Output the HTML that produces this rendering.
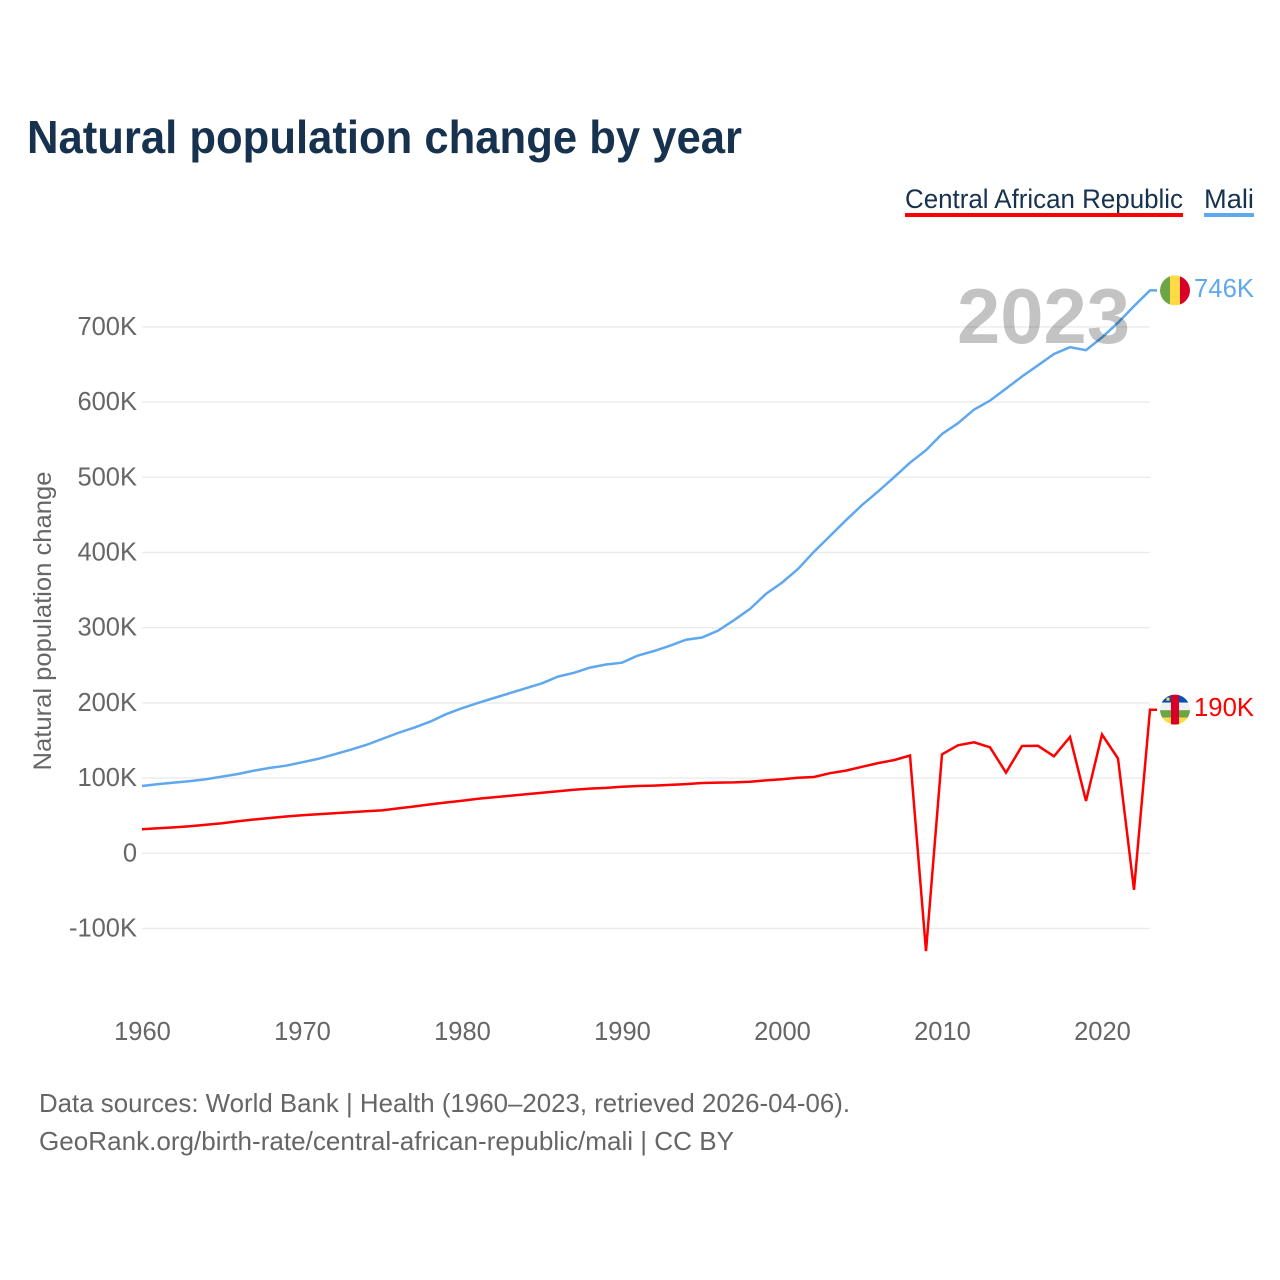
<!DOCTYPE html>
<html lang="en">
<head>
<meta charset="utf-8">
<title>Natural population change by year</title>
<style>
  html, body { margin: 0; padding: 0; background: #fff; }
  #chart { display: block; width: 1280px; height: 1280px; font-family: "Liberation Sans", sans-serif; }
  .tick { font-size: 25.5px; fill: #666; }
</style>
</head>
<body>
<svg id="chart" xmlns="http://www.w3.org/2000/svg" width="1280" height="1280" viewBox="0 0 1280 1280">
  <defs>
    <clipPath id="flag-clip"><circle cx="0" cy="0" r="15"></circle></clipPath>
  </defs>
  <rect x="0" y="0" width="1280" height="1280" fill="#fff"></rect>

  <text x="27" y="153" font-size="46" font-weight="700" fill="#17324f" textLength="715" lengthAdjust="spacingAndGlyphs">Natural population change by year</text>

  <g>
    <g>
      <text x="905" y="208" font-size="27" fill="#17324f" textLength="278" lengthAdjust="spacingAndGlyphs">Central African Republic</text>
      <rect x="905" y="213" width="278" height="4" fill="#ff0000"></rect>
    </g>
    <g>
      <text x="1204" y="208" font-size="27" fill="#17324f" textLength="50" lengthAdjust="spacingAndGlyphs">Mali</text>
      <rect x="1204" y="213" width="50" height="4" fill="#5fa8ee"></rect>
    </g>
  </g>

  <g id="grid"></g>
  <g id="yticks"></g>
  <g id="xticks"></g>
  <text transform="translate(51,621) rotate(-90)" text-anchor="middle" font-size="25" fill="#666" textLength="299" lengthAdjust="spacingAndGlyphs">Natural population change</text>

  <g id="series"></g>
  <text x="957" y="343" font-size="78" font-weight="700" fill="#000" fill-opacity="0.235" textLength="173" lengthAdjust="spacingAndGlyphs">2023</text>

  <g id="flag-mali">
    <g clip-path="url(#flag-clip)">
      <rect x="-15" y="-15" width="10" height="30" fill="#6da544"></rect>
      <rect x="-5" y="-15" width="10" height="30" fill="#ffda44"></rect>
      <rect x="5" y="-15" width="10" height="30" fill="#d80027"></rect>
    </g>
  </g>
  <g id="flag-car">
    <g clip-path="url(#flag-clip)">
      <rect x="-15" y="-15" width="30" height="8" fill="#0052b4"></rect>
      <rect x="-15" y="-7" width="30" height="7.5" fill="#f0f0f0"></rect>
      <rect x="-15" y="0.5" width="30" height="7.5" fill="#6da544"></rect>
      <rect x="-15" y="8" width="30" height="7" fill="#ffda44"></rect>
      <rect x="-4" y="-15" width="8" height="30" fill="#d80027"></rect>
      <rect x="-8.5" y="-12" width="3" height="3" fill="#ffda44"></rect>
    </g>
  </g>
  <text id="label-mali" x="1194" font-size="26" fill="#5fa8ee" textLength="60" lengthAdjust="spacingAndGlyphs"></text>
  <text id="label-car" x="1194" font-size="26" fill="#ff0000" textLength="60" lengthAdjust="spacingAndGlyphs"></text>

  <text x="39" y="1112" font-size="26" fill="#666" textLength="811" lengthAdjust="spacingAndGlyphs">Data sources: World Bank | Health (1960–2023, retrieved 2026-04-06).</text>
  <text x="39" y="1150" font-size="26" fill="#666" textLength="695" lengthAdjust="spacingAndGlyphs">GeoRank.org/birth-rate/central-african-republic/mali | CC BY</text>
</svg>
<script>
var startYear = 1960;
var xTickYears = [1960, 1970, 1980, 1990, 2000, 2010, 2020];
var yTickValues = [-100, 0, 100, 200, 300, 400, 500, 600, 700];
var yTickLabels = ['-100K', '0', '100K', '200K', '300K', '400K', '500K', '600K', '700K'];
var maliEndLabel = '746K';
var carEndLabel = '190K';
var maliValues = [
  89.5, 92, 94, 96, 98.5, 102, 105.5, 110, 113.5, 116.5,
  121, 125.5, 131.5, 137.5, 144, 152, 160, 167, 175, 185,
  193, 200, 206.5, 213, 219.5, 226, 235, 240, 247, 251,
  253.5, 263, 269, 276, 284, 287, 296, 310, 325, 345,
  360, 378, 401, 422, 443, 463, 481, 500, 519.4, 536,
  557.6, 572, 590, 602, 618, 634, 649, 664, 673, 669,
  686, 705.6, 727.7, 748.5
];
var carValues = [
  32, 33.2, 34.5, 36, 38, 40, 42.5, 45, 47, 49,
  50.5, 52, 53.2, 54.5, 55.8, 57, 59.7, 62.2, 65, 67.6,
  70, 72.5, 74.5, 76.5, 78.5, 80.5, 82.5, 84.5, 86, 87,
  88.5, 89.5, 90, 91, 92, 93.5, 94, 94.3, 95.2, 97,
  98.5, 100.5, 101.5, 106.5, 110, 115, 120, 124, 130, -130,
  131.5, 143.6, 147.6, 141, 107.3, 142.7, 143, 129, 154.7, 69.5,
  158, 126, -48.5, 191
];

var SVG_NS = 'http://www.w3.org/2000/svg';
function xScale(year) { return 142 + (year - 1960) * 16; }
function yScale(value) { return 853.3 - value * 0.752; }

function linePoints(values) {
  var pts = values.map(function (v, i) {
    return xScale(startYear + i).toFixed(1) + ',' + yScale(v).toFixed(1);
  });
  var lastX = xScale(startYear + values.length - 1);
  pts.push((lastX + 7).toFixed(1) + ',' + yScale(values[values.length - 1]).toFixed(1));
  return pts.join(' ');
}

var grid = document.getElementById('grid');
var yticks = document.getElementById('yticks');
var xticks = document.getElementById('xticks');
var series = document.getElementById('series');

yTickValues.forEach(function (v, i) {
  var line = document.createElementNS(SVG_NS, 'line');
  
  
  line.setAttribute('x1', 142);
  line.setAttribute('x2', 1150);
  line.setAttribute('y1', yScale(v));
  line.setAttribute('y2', yScale(v));
  line.setAttribute('stroke', '#ebebeb');
  line.setAttribute('stroke-width', 1.4);
  grid.appendChild(line);

  var label = document.createElementNS(SVG_NS, 'text');
  
  
  label.setAttribute('class', 'tick');
  label.setAttribute('x', 137);
  label.setAttribute('y', yScale(v) + 8);
  label.setAttribute('text-anchor', 'end');
  label.textContent = yTickLabels[i];
  yticks.appendChild(label);
});

xTickYears.forEach(function (year) {
  var label = document.createElementNS(SVG_NS, 'text');
  
  
  label.setAttribute('class', 'tick');
  label.setAttribute('x', xScale(year) + 0.5);
  label.setAttribute('y', 1040);
  label.setAttribute('text-anchor', 'middle');
  label.textContent = String(year);
  xticks.appendChild(label);
});

var maliLine = document.createElementNS(SVG_NS, 'polyline');


maliLine.setAttribute('points', linePoints(maliValues));
maliLine.setAttribute('fill', 'none');
maliLine.setAttribute('stroke', '#5fa8ee');
maliLine.setAttribute('stroke-width', 2.5);
maliLine.setAttribute('stroke-linejoin', 'miter');
series.appendChild(maliLine);

var carLine = document.createElementNS(SVG_NS, 'polyline');


carLine.setAttribute('points', linePoints(carValues));
carLine.setAttribute('fill', 'none');
carLine.setAttribute('stroke', '#ff0000');
carLine.setAttribute('stroke-width', 2.5);
carLine.setAttribute('stroke-linejoin', 'miter');
series.appendChild(carLine);

var maliY = yScale(maliValues[maliValues.length - 1]);
var carY = yScale(carValues[carValues.length - 1]);
document.getElementById('flag-mali').setAttribute('transform', 'translate(1175,' + maliY + ')');
document.getElementById('flag-car').setAttribute('transform', 'translate(1175,' + carY + ')');
var maliLabel = document.getElementById('label-mali');
maliLabel.setAttribute('y', maliY + 6.5);
maliLabel.textContent = maliEndLabel;
var carLabel = document.getElementById('label-car');
carLabel.setAttribute('y', carY + 6.5);
carLabel.textContent = carEndLabel;
</script>
</body>
</html>
